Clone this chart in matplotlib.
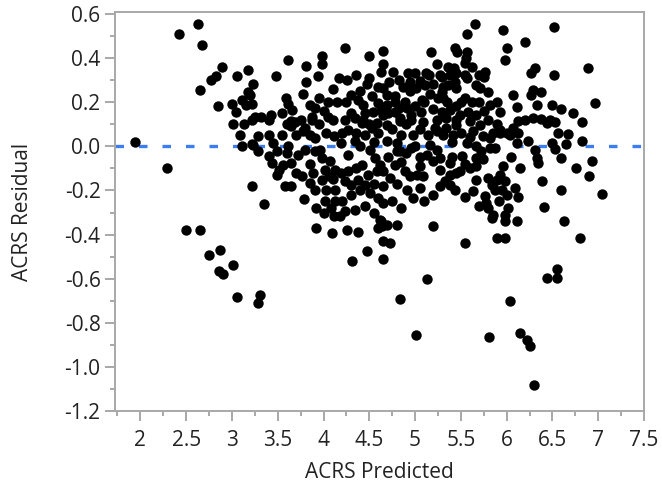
import matplotlib.pyplot as plt
import numpy as np

# ACRS predicted vs residual
predicted = [
    1.94, 2.29, 2.42, 2.63, 2.67, 2.655, 2.77, 2.83,
    2.89, 2.85, 3.00, 3.04, 3.05, 3.11, 3.15, 3.18,
    3.18, 3.01, 3.13, 3.09, 3.11, 3.22, 3.22, 2.50,
    2.655, 2.87, 2.75, 3.01, 2.855, 2.90, 3.05, 3.31,
    3.28,
    4.24, 4.65, 4.50, 3.98, 3.98, 3.61, 3.805, 3.48,
    3.94, 4.17, 4.26, 4.63, 4.50, 4.47, 3.805, 3.23,
    3.20, 3.78, 3.59, 3.61, 3.66, 3.85, 3.91, 4.01,
    4.05, 3.87, 3.22, 3.25, 3.32, 3.43, 4.25, 4.30,
    4.38, 4.43, 4.53, 4.60, 4.63, 4.54, 4.34, 4.43,
    4.23, 3.69,
    5.65, 5.96, 5.57, 6.00, 5.98, 5.17, 5.435, 5.46,
    5.57, 5.56, 5.54, 5.24, 4.65, 5.36, 5.42, 4.76,
    4.925, 5.00, 5.155, 5.27, 5.38, 5.45, 5.54, 5.76,
    5.75, 5.57, 4.82, 5.05, 5.11, 4.94, 5.29, 5.435,
    5.45, 5.36, 5.31, 4.87, 5.01, 4.65, 5.67, 5.71,
    6.07, 5.80, 4.69, 4.78, 5.16, 5.29, 5.31, 5.08,
    4.78, 4.89, 4.91, 4.82, 4.69, 4.65, 4.78, 4.83,
    4.96, 5.07, 5.29, 5.38, 5.49, 5.58, 5.67, 5.82,
    5.89, 5.93, 5.80, 6.11, 5.09, 5.24, 5.45, 5.34,
    6.52, 6.20, 6.89, 6.31, 6.27, 6.52, 6.29, 6.37,
    6.27, 6.96, 6.33, 6.50, 6.59, 6.72, 6.82, 6.20,
    6.29, 6.38, 6.47, 6.53, 6.125, 6.44, 6.56, 6.67,
    6.82, 6.65, 6.49, 6.53, 6.59, 6.33, 6.34, 6.23,
    6.11, 6.31, 6.125, 6.93, 6.76, 6.90, 6.39, 6.59,
    7.04, 6.12, 6.41, 6.11, 6.63,
    5.20, 4.645, 4.73, 5.54, 5.89, 5.98,
    6.80, 4.645, 5.13, 6.545, 6.545, 6.44, 4.83, 6.04,
    5.01, 5.81, 6.15, 6.22, 6.25, 6.30, 3.92, 4.09,
    4.26, 4.38, 4.64, 4.47, 4.31,
    3.65, 3.87, 3.215, 3.40, 3.29, 3.23, 3.29,
    3.40, 3.45, 3.49, 3.40, 3.44, 3.51, 3.49, 3.615,
    3.65, 3.78, 3.91, 3.80, 4.03, 4.11, 4.27, 4.19,
    3.72, 3.80, 3.91, 3.98, 4.07, 4.13, 4.02, 3.89,
    3.76, 3.85, 3.91, 3.58, 3.65, 3.35, 3.79, 3.92,
    4.02, 4.03, 4.13, 4.23, 4.30, 4.38, 4.19, 4.27,
    4.35, 4.42, 4.27, 4.34, 4.45, 4.53, 4.58, 4.42,
    4.51, 4.56, 4.58, 4.49, 4.45, 4.51, 4.60, 4.45,
    4.34, 4.23, 4.18, 4.11, 4.60,
    4.62, 4.13, 3.98, 4.06, 3.96, 3.65, 3.56,
    4.69, 4.835, 4.96, 5.22, 5.34, 5.45, 5.60,
    5.71, 5.93, 6.07, 6.04, 6.00, 4.69, 4.80,
    4.80, 4.98, 4.96, 5.14, 5.16, 5.125, 5.20, 5.27,
    5.27, 5.24, 5.51, 5.565, 5.67, 5.72, 5.82, 5.875,
    5.745, 5.82, 5.93, 5.67, 5.67, 5.745, 5.96, 5.93,
    5.49, 5.45, 5.38, 5.33, 5.27, 5.38, 5.435, 5.67,
    5.80, 5.89, 5.84, 5.875, 5.95, 5.98, 6.09,
    5.63, 5.76, 5.78, 5.80, 6.02, 5.98, 5.85, 5.84,
    5.98, 4.62, 4.65, 4.73, 4.89, 4.94, 5.02,
    5.09, 5.05, 4.91, 4.98, 4.65, 4.65, 4.63, 4.69,
    4.80, 4.78, 4.835, 5.05, 5.38, 5.24, 5.635,
    5.415,
]
residual = [
    0.019, -0.098, 0.507, 0.552, 0.458, 0.253, 0.30, 0.318,
    0.36, 0.184, 0.19, 0.157, 0.318, 0.21, 0.187, 0.244,
    0.344, 0.10, 0.10, 0.05, 0.0, 0.01, -0.178, -0.379,
    -0.379, -0.469, -0.493, -0.538, -0.564, -0.576, -0.682, -0.674,
    -0.71,
    0.443, 0.431, 0.409, 0.41, 0.371, 0.39, 0.363, 0.318,
    0.318, 0.31, 0.30, 0.338, 0.308, 0.28, 0.29, 0.28,
    0.232, 0.235, 0.22, 0.19, 0.164, 0.187, 0.172, 0.16,
    0.134, 0.134, 0.19, 0.13, 0.13, 0.142, 0.202, 0.232,
    0.21, 0.187, 0.229, 0.195, 0.164, 0.157, 0.127, 0.119,
    0.119, 0.111,
    0.552, 0.526, 0.507, 0.446, 0.39, 0.425, 0.443, 0.428,
    0.428, 0.398, 0.376, 0.371, 0.371, 0.36, 0.356, 0.338,
    0.33, 0.33, 0.32, 0.32, 0.323, 0.33, 0.323, 0.338,
    0.315, 0.308, 0.30, 0.295, 0.277, 0.292, 0.315, 0.292,
    0.262, 0.277, 0.27, 0.27, 0.262, 0.262, 0.277, 0.262,
    0.232, 0.244, 0.232, 0.229, 0.235, 0.244, 0.217, 0.21,
    0.202, 0.202, 0.172, 0.172, 0.187, 0.142, 0.157, 0.127,
    0.142, 0.157, 0.157, 0.164, 0.142, 0.157, 0.142, 0.187,
    0.202, 0.157, 0.119, 0.179, 0.111, 0.119, 0.119, 0.127,
    0.541, 0.47, 0.356, 0.353, 0.33, 0.32, 0.255, 0.244,
    0.232, 0.195, 0.187, 0.187, 0.169, 0.15, 0.109, 0.119,
    0.127, 0.124, 0.119, 0.111, 0.113, 0.105, 0.06, 0.056,
    0.025, 0.01, 0.015, -0.011, -0.053, -0.053, -0.076, 0.023,
    0.015, -0.015, 0.06, -0.068, -0.098, -0.133, -0.158, -0.196,
    -0.216, -0.231, -0.276, -0.34, -0.34,
    -0.36, -0.43, -0.44, -0.44, -0.414, -0.414,
    -0.414, -0.51, -0.60, -0.556, -0.595, -0.595, -0.69, -0.70,
    -0.855, -0.863, -0.846, -0.875, -0.905, -1.08, -0.368, -0.394,
    -0.379, -0.388, -0.36, -0.474, -0.519,
    0.113, 0.12, 0.12, 0.12, 0.045, 0.007, -0.023,
    0.052, 0.015, -0.023, -0.045, -0.076, -0.106, -0.128, 0.0,
    0.09, 0.068, 0.038, 0.083, 0.06, 0.045, 0.075, 0.015,
    -0.04, -0.017, -0.023, -0.053, -0.068, -0.106, -0.106, -0.12,
    -0.136, -0.166, -0.196, -0.181, -0.181, -0.261, -0.237, -0.279,
    -0.249, -0.196, -0.196, -0.158, -0.174, -0.151, -0.12, -0.113,
    -0.098, -0.083, -0.038, 0.023, 0.052, 0.083, 0.105, 0.105,
    -0.015, -0.053, -0.113, -0.128, -0.174, -0.211, -0.234, -0.271,
    -0.287, -0.294, -0.317, -0.317, -0.37,
    -0.332, -0.249, -0.151, -0.136, -0.017, -0.076, -0.083,
    0.098, 0.113, 0.12, 0.083, 0.083, 0.098, 0.113,
    0.098, 0.075, 0.083, 0.052, 0.06, 0.023, 0.015,
    -0.023, 0.052, -0.008, 0.052, 0.007, -0.038, -0.068, -0.106,
    -0.053, -0.015, -0.045, 0.015, 0.0, -0.023, -0.008, -0.008,
    0.045, 0.038, 0.06, -0.053, -0.09, -0.06, -0.09, -0.128,
    -0.113, -0.12, -0.128, -0.158, -0.181, -0.174, -0.196, -0.151,
    -0.143, -0.151, -0.174, -0.196, -0.196, -0.158, -0.189,
    -0.204, -0.226, -0.257, -0.279, -0.279, -0.309, -0.309, -0.324,
    -0.34, -0.083, -0.113, -0.143, -0.113, -0.136, -0.128,
    -0.136, -0.189, -0.196, -0.234, -0.181, -0.257, -0.34, -0.355,
    -0.355, -0.083, -0.023, -0.09, -0.076, 0.068, 0.068,
    0.052,
]

# points hidden inside the solid central cloud
cloud_pred = [
    3.55, 3.60, 3.70, 3.75, 3.85, 3.95, 4.05, 4.10,
    4.15, 4.20, 4.30, 4.35, 4.40, 4.45, 4.50, 4.55,
    4.60, 4.70, 4.75, 4.85, 4.90, 4.85, 4.90, 5.00,
    5.05, 5.10, 5.20, 5.25, 5.30, 5.35, 5.40, 5.45,
    5.50, 5.55, 5.60, 5.62, 5.70, 5.75, 5.85, 5.90,
    5.55, 5.60, 5.40, 5.05, 4.70, 4.55, 4.40, 4.30,
    4.20, 4.10, 4.00, 4.08, 3.85, 3.70, 3.60, 3.55,
    3.95, 4.10, 4.35, 4.40, 4.60, 4.72, 5.20, 5.00,
    4.95, 5.12, 5.70, 5.62, 5.50, 6.05, 6.15, 6.00,
    5.92, 5.70, 5.55, 5.20, 5.10, 4.85, 4.75, 4.55,
    4.80,
]
cloud_res = [
    0.05, 0.10, 0.05, 0.12, 0.05, 0.10, 0.20, 0.12,
    0.20, 0.06, 0.15, 0.06, 0.00, 0.15, 0.10, 0.02,
    0.06, 0.15, 0.08, 0.05, 0.10, -0.07, -0.03, 0.00,
    0.08, 0.20, 0.17, 0.22, 0.05, 0.20, 0.02, 0.18,
    0.06, 0.22, 0.04, 0.20, 0.20, 0.16, 0.06, 0.10,
    -0.08, -0.10, -0.05, -0.05, -0.05, -0.17, -0.20, -0.22,
    -0.25, -0.15, -0.30, -0.28, -0.08, -0.12, -0.03, 0.15,
    0.22, 0.26, 0.32, 0.25, 0.27, 0.29, 0.28, 0.18,
    0.25, 0.33, 0.32, 0.36, 0.20, -0.05, -0.10, -0.22,
    -0.25, -0.27, -0.23, -0.22, -0.25, -0.28, -0.25, -0.30,
    -0.17,
]

x_ticks = [2, 2.5, 3, 3.5, 4, 4.5, 5, 5.5, 6, 6.5, 7, 7.5]
x_labels = ['2', '2.5', '3', '3.5', '4', '4.5', '5', '5.5', '6', '6.5', '7', '7.5']
y_ticks = [-1.2, -1.0, -0.8, -0.6, -0.4, -0.2, 0.0, 0.2, 0.4, 0.6]
y_labels = ['-1.2', '-1.0', '-0.8', '-0.6', '-0.4', '-0.2', '0.0', '0.2', '0.4', '0.6']

plt.rcParams['font.family'] = ['Open Sans', 'DejaVu Sans']

fig = plt.figure(figsize=(6.62, 4.91), dpi=100)
ax = fig.add_axes([0.1733, 0.162, 0.7995, 0.813])

ax.axhline(0, color='#3d7df2', lw=2.4, ls=(0, (2.55, 4.5)), zorder=2)
ax.scatter(predicted + cloud_pred, residual + cloud_res, s=56, c='black',
           linewidths=0, zorder=3)

ax.set_xlim(1.72, 7.5)
ax.set_ylim(-1.2, 0.606)

ax.set_xticks(x_ticks)
ax.set_xticklabels(x_labels)
ax.set_xticks(np.arange(1.75, 7.5, 0.25), minor=True)
ax.set_yticks(y_ticks)
ax.set_yticklabels(y_labels)
ax.set_yticks(np.arange(-1.1, 0.6, 0.2), minor=True)

gray = '#a8a8a8'
for sp in ax.spines.values():
    sp.set_color(gray)
    sp.set_linewidth(1.4)
ax.tick_params(which='major', length=7.2, width=1.4, color=gray,
               labelsize=15, pad=3, labelcolor='#222222')
ax.tick_params(axis='x', which='major', pad=6)
ax.tick_params(which='minor', length=3.3, width=1.4, color=gray)

ax.set_xlabel('ACRS Predicted', fontsize=15, color='#222222')
ax.set_ylabel('ACRS Residual', fontsize=15, color='#222222')
ax.xaxis.set_label_coords(0.5, -0.152)
ax.xaxis.label.set_va('center')
ax.yaxis.set_label_coords(-0.175, 0.5)
ax.yaxis.label.set_va('center')

fig.savefig('out.png', dpi=100)
